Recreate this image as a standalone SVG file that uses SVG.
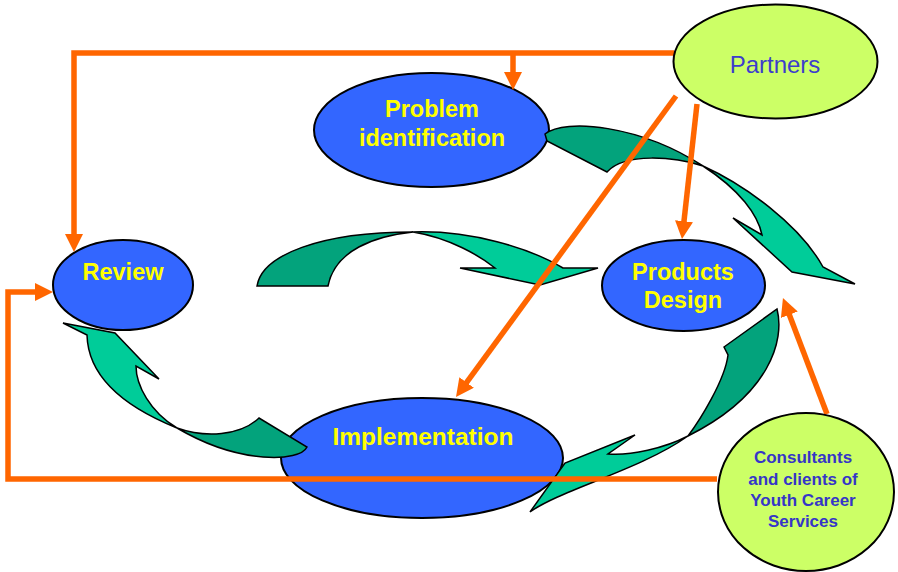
<svg xmlns="http://www.w3.org/2000/svg" width="898" height="572" viewBox="0 0 898 572">
  <style>
    .blue { fill: #3366FF; stroke: #000; stroke-width: 2; }
    .lime { fill: #CCFF66; stroke: #000; stroke-width: 2; }
    .label { font-family: "Liberation Sans", Arial, sans-serif; font-weight: bold; fill: #FFFF00; font-size: 23.5px; text-anchor: middle; }
    .partner { font-family: "Liberation Sans", Arial, sans-serif; fill: #3D3DCC; font-size: 24px; text-anchor: middle; }
    .client { font-family: "Liberation Sans", Arial, sans-serif; font-weight: bold; fill: #3535C8; font-size: 17px; text-anchor: middle; }
    .back { fill: #03A37C; stroke: #000; stroke-width: 1.5; stroke-linejoin: miter; }
    .front { fill: #00CC99; stroke: #000; stroke-width: 1.5; stroke-linejoin: miter; }
    .link { fill: none; stroke: #FF6600; stroke-width: 5.5; stroke-linejoin: miter; }
  </style>
  <defs>
    <marker id="head" markerUnits="userSpaceOnUse" markerWidth="18" markerHeight="18" refX="8" refY="9" orient="auto">
      <path d="M0,0 L18,9 L0,18 z" fill="#FF6600"/>
    </marker>
  </defs>

  <rect width="898" height="572" fill="#FFFFFF"/>

  <!-- process stages -->
  <g id="problem">
    <ellipse class="blue" cx="431.5" cy="130" rx="117.5" ry="57"/>
    <text class="label" x="432" y="117">Problem</text>
    <text class="label" x="432" y="146">identification</text>
  </g>
  <g id="review">
    <ellipse class="blue" cx="123" cy="285" rx="70" ry="45"/>
    <text class="label" x="123" y="280">Review</text>
  </g>
  <g id="products">
    <ellipse class="blue" cx="683.5" cy="285.5" rx="81.5" ry="45.5"/>
    <text class="label" x="683" y="280">Products</text>
    <text class="label" x="683" y="308">Design</text>
  </g>
  <g id="implementation">
    <ellipse class="blue" cx="422" cy="458" rx="141" ry="60"/>
    <text class="label" x="423" y="445" style="font-size:24.5px">Implementation</text>
  </g>

  <!-- twisted cycle arrows -->
  <g id="cycle">
    <g id="cycle-1">
      <path class="back" d="M545,134 C565,118 640,125 703,166 C675,157 625,152 607,172 L547,141 Z"/>
      <path class="front" d="M703,166 C745,185 800,225 823,267 L855,284 L792,272 L733,218 L762,235 C758,215 740,190 703,166 Z"/>
    </g>
    <g id="cycle-2">
      <path class="back" d="M257,286 C262,255 320,232 413,232 C375,236 335,250 328,286 Z"/>
      <path class="front" d="M413,232 C470,230 530,248 563,268 L598,268 L540,285 L460,268 L495,268 C480,256 450,238 413,232 Z"/>
    </g>
    <g id="cycle-3">
      <path class="front" d="M63,323 L115,333 L159,379 L136,366 C136,385 150,412 177,428 C120,405 88,375 87,335 Z"/>
      <path class="back" d="M177,428 C205,438 240,436 259,418 L307,447 C300,462 240,465 177,428 Z"/>
    </g>
    <g id="cycle-4">
      <path class="back" d="M724,347 L777,309 C785,340 770,395 688,436 C700,420 725,380 728,355 Z"/>
      <path class="front" d="M688,436 C665,448 630,456 608,454 L635,435 L565,463 L530,512 C560,490 640,470 688,436 Z"/>
    </g>
  </g>

  <!-- influence connectors -->
  <g id="connectors">
    <path class="link" d="M674,53 H74 V242" marker-end="url(#head)"/>
    <path class="link" d="M513,53 V80" marker-end="url(#head)"/>
    <path class="link" d="M717,479 H8 V292 H43" marker-end="url(#head)"/>
    <path class="link" d="M697,104 L683.1,229.1" marker-end="url(#head)"/>
    <path class="link" d="M676,96 L461.9,388.9" marker-end="url(#head)"/>
    <path class="link" d="M827,414 L786.5,307.3" marker-end="url(#head)"/>
  </g>

  <!-- stakeholders -->
  <g id="partners">
    <ellipse class="lime" cx="775.5" cy="61.5" rx="102" ry="57"/>
    <text class="partner" x="775" y="73">Partners</text>
  </g>
  <g id="consultants">
    <ellipse class="lime" cx="806" cy="492" rx="88" ry="79"/>
    <text class="client" x="803" y="463">Consultants</text>
    <text class="client" x="803" y="485">and clients of</text>
    <text class="client" x="803" y="506">Youth Career</text>
    <text class="client" x="803" y="527">Services</text>
  </g>
</svg>
